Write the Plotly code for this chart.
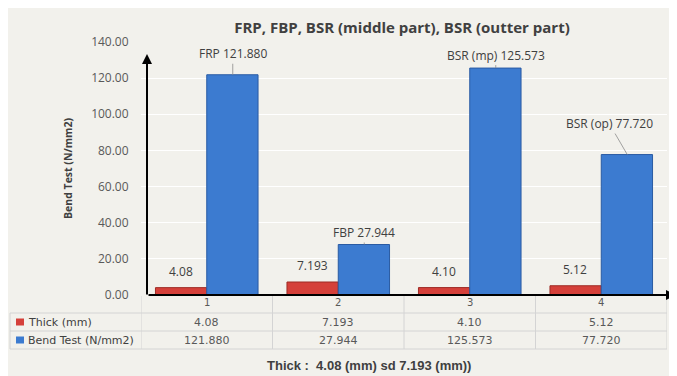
import plotly.graph_objects as go

# ---------------- data ----------------
categories = ["1", "2", "3", "4"]
thick = [4.08, 7.193, 4.10, 5.12]
thick_labels = ["4.08", "7.193", "4.10", "5.12"]
bend = [121.880, 27.944, 125.573, 77.720]
bend_labels = ["121.880", "27.944", "125.573", "77.720"]
bend_names = ["FRP", "FBP", "BSR (mp)", "BSR (op)"]
series_names = ["Thick (mm)", "Bend Test (N/mm2)"]
y_ticks = [0, 20, 40, 60, 80, 100, 120, 140]

# ---------------- layout geometry (page pixel coords, body margin 8px) ----------------
OFF = 8
W, H = 677 - OFF, 376 - OFF
PL, PR, PT, PB = 141, 667, 42, 295          # plot area in page pixels
L, R, T, B = PL - OFF, (W + OFF) - PR, PT - OFF, (H + OFF) - PB
PW, PH = PR - PL, PB - PT


def px(x):
    return (x - PL) / PW


def py(y):
    return (PB - y) / PH


RED = "#d5403a"
RED_LINE = "#9e2b25"
BLUE = "#3c7bd0"
BLUE_LINE = "#2a5ba3"
TXT = "#404040"
GRAY = "#595959"
BG = "#f2f1ec"

fig = go.Figure()
fig.add_trace(go.Bar(x=categories, y=thick, name=series_names[0],
                     marker=dict(color=RED, line=dict(color=RED_LINE, width=1))))
fig.add_trace(go.Bar(x=categories, y=bend, name=series_names[1],
                     marker=dict(color=BLUE, line=dict(color=BLUE_LINE, width=1))))

annotations = []
shapes = []

# red value labels
for i, (v, t) in enumerate(zip(thick, thick_labels)):
    annotations.append(dict(x=i, y=v, xref="x", yref="y", text=t, showarrow=False,
                            yanchor="bottom", yshift=6, xshift=-26,
                            font=dict(family="Open Sans", size=12, color=TXT)))

# blue value labels (with leader lines)
offsets = [(0, -21), (0, -12), (0, -13), (-18, -31)]
for i, (v, n, t, (ax, ay)) in enumerate(zip(bend, bend_names, bend_labels, offsets)):
    annotations.append(dict(x=i, y=v, xref="x", yref="y", text=f"{n} {t}",
                            showarrow=True, arrowhead=0, arrowwidth=0.8,
                            arrowcolor="#8c8c8c", ax=ax, ay=ay, xshift=26,
                            font=dict(family="Open Sans", size=12, color=TXT)))

# category labels under the axis
for i, c in enumerate(categories):
    annotations.append(dict(x=i, y=py(302), xref="x", yref="paper", text=c,
                            showarrow=False, yanchor="middle",
                            font=dict(family="DejaVu Sans", size=10, color=GRAY)))

# axes arrows
annotations.append(dict(x=px(676), y=py(295), xref="paper", yref="paper", text="",
                        showarrow=True, arrowhead=2, arrowsize=1, arrowwidth=2,
                        arrowcolor="black", ax=-(676 - 147), ay=0))
annotations.append(dict(x=px(147), y=py(54), xref="paper", yref="paper", text="",
                        showarrow=True, arrowhead=2, arrowsize=1, arrowwidth=2,
                        arrowcolor="black", ax=0, ay=(296 - 54)))

# data table
grid_c = "#d4d4d4"
row_y = [322, 340]
for yy in (313, 331, 349):
    shapes.append(dict(type="line", xref="paper", yref="paper", x0=px(10), x1=px(667),
                       y0=py(yy), y1=py(yy), line=dict(color=grid_c, width=1)))
shapes.append(dict(type="line", xref="paper", yref="paper", x0=px(10), x1=px(10),
                   y0=py(313), y1=py(349), line=dict(color=grid_c, width=1)))
for i in range(len(categories) + 1):
    shapes.append(dict(type="line", xref="x", yref="paper", x0=i - 0.5, x1=i - 0.5,
                       y0=py(296), y1=py(349), line=dict(color=grid_c, width=1)))

for ry, name, col in zip(row_y, series_names, [RED, BLUE]):
    shapes.append(dict(type="rect", xref="paper", yref="paper", x0=px(16), x1=px(24),
                       y0=py(ry + 3.5), y1=py(ry - 3.5), fillcolor=col,
                       line=dict(width=0)))
    annotations.append(dict(x=px(26), y=py(ry), xref="paper", yref="paper", text=name,
                            showarrow=False, xanchor="left", yanchor="middle",
                            font=dict(family="DejaVu Sans", size=11, color=TXT)))
for row, ry in zip([thick_labels, bend_labels], row_y):
    for i, t in enumerate(row):
        annotations.append(dict(x=i, y=py(ry), xref="x", yref="paper", text=t,
                                showarrow=False, yanchor="middle",
                                font=dict(family="DejaVu Sans", size=11, color=GRAY)))

# bottom caption
annotations.append(dict(x=px(369), y=py(365), xref="paper", yref="paper",
                        xanchor="center", yanchor="middle",
                        text="<b>Thick :  4.08 (mm) sd 7.193 (mm))</b>", showarrow=False,
                        font=dict(family="Liberation Sans", size=13, color=TXT)))

fig.update_layout(
    width=W, height=H,
    margin=dict(l=L, r=R, t=T, b=B, pad=0),
    paper_bgcolor=BG,
    plot_bgcolor=BG,
    showlegend=False,
    barmode="group",
    bargap=0.22,
    bargroupgap=0,
    title=dict(text="<b>FRP, FBP, BSR (middle part), BSR (outter part)</b>",
               x=(402 - OFF) / W, xanchor="center", y=1 - (28 - OFF) / H, yanchor="middle",
               font=dict(family="Open Sans", size=15, color=TXT)),
    xaxis=dict(type="category", range=[-0.5, 3.5], showgrid=False, zeroline=False,
               showline=False, showticklabels=False, ticks=""),
    yaxis=dict(range=[0, 140], tickvals=y_ticks, tickformat=".2f", showgrid=True,
               gridcolor="white", gridwidth=1, zeroline=False, showline=False,
               ticks="outside", ticklen=9, tickcolor="rgba(0,0,0,0)",
               tickfont=dict(family="Open Sans", size=12, color=GRAY),
               title=dict(text="<b>Bend Test (N/mm2)</b>", standoff=16,
                          font=dict(family="Open Sans", size=10.5, color=TXT))),
    annotations=annotations,
    shapes=shapes,
)

fig.write_html("out.html")
